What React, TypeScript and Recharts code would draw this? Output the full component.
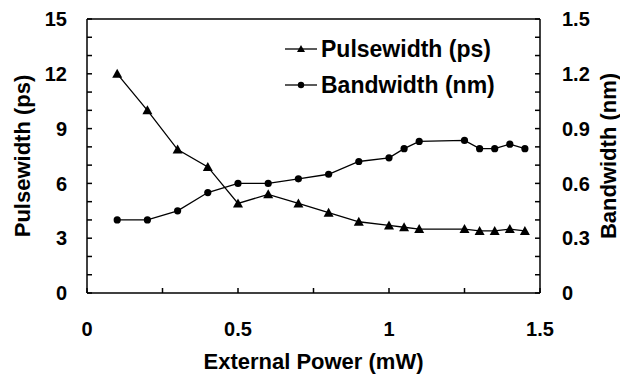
import React from 'react';
import { LineChart, Line, XAxis, YAxis, ReferenceLine } from 'recharts';

const power = [0.1, 0.2, 0.3, 0.4, 0.5, 0.6, 0.7, 0.8, 0.9, 1.0, 1.05, 1.1, 1.25, 1.3, 1.35, 1.4, 1.45];
const pulsewidth = [12.0, 10.0, 7.85, 6.9, 4.9, 5.4, 4.9, 4.4, 3.9, 3.7, 3.6, 3.5, 3.5, 3.4, 3.4, 3.5, 3.4];
const bandwidth = [0.4, 0.4, 0.45, 0.55, 0.6, 0.6, 0.625, 0.65, 0.72, 0.74, 0.79, 0.83, 0.835, 0.79, 0.79, 0.815, 0.79];

const xTicks = [0, 0.25, 0.5, 0.75, 1, 1.25, 1.5];
const leftTicks = [0, 1, 2, 3, 4, 5, 6, 7, 8, 9, 10, 11, 12, 13, 14, 15];
const rightTicks = [0, 0.1, 0.2, 0.3, 0.4, 0.5, 0.6, 0.7, 0.8, 0.9, 1.0, 1.1, 1.2, 1.3, 1.4, 1.5];

const data = power.map((p, i) => ({ p, pulse: pulsewidth[i], band: bandwidth[i] }));

const FONT = '"Liberation Sans", Arial, sans-serif';
const tickStyle = { fill: '#000', fontSize: 20, fontWeight: 'bold', fontFamily: FONT };

const Triangle = (props: any) => {
  const { cx, cy, index } = props;
  if (cx == null || cy == null) return null;
  return <path key={`t-${index}`} d={`M${cx},${cy - 5} L${cx + 5},${cy + 4} L${cx - 5},${cy + 4} Z`} fill="#000" />;
};

const Dot = (props: any) => {
  const { cx, cy, index } = props;
  if (cx == null || cy == null) return null;
  return <circle key={`c-${index}`} cx={cx} cy={cy} r={3.6} fill="#000" />;
};

const titleStyle = { fontSize: 22, fontWeight: 'bold', fontFamily: FONT, fill: '#000' } as const;

const LegendBox = () => (
  <div
    style={{
      position: 'absolute',
      left: 285,
      top: 31,
      fontFamily: FONT,
      fontWeight: 'bold',
      fontSize: 23,
      color: '#000',
      lineHeight: '36px',
    }}
  >
    <div style={{ display: 'flex', alignItems: 'center' }}>
      <svg width={34} height={20}>
        <line x1={0} y1={10} x2={32} y2={10} stroke="#000" strokeWidth={1.3} />
        <path d="M16,6 L20,13 L12,13 Z" fill="#000" />
      </svg>
      <span style={{ marginLeft: 2 }}>Pulsewidth (ps)</span>
    </div>
    <div style={{ display: 'flex', alignItems: 'center' }}>
      <svg width={34} height={20}>
        <line x1={0} y1={10} x2={32} y2={10} stroke="#000" strokeWidth={1.3} />
        <circle cx={16} cy={10} r={3.2} fill="#000" />
      </svg>
      <span style={{ marginLeft: 2 }}>Bandwidth (nm)</span>
    </div>
  </div>
);

export default function App() {
  return (
    <div style={{ position: 'absolute', left: 0, top: 0, width: 620, height: 380, background: '#fff' }}>
      <LineChart width={620} height={380} data={data} margin={{ top: 19, right: 0, bottom: 0, left: 0 }}>
        <XAxis
          dataKey="p"
          type="number"
          domain={[0, 1.5]}
          ticks={xTicks}
          height={87}
          stroke="#000"
          strokeWidth={1.5}
          tickSize={-5}
          tickMargin={34}
          tick={tickStyle}
          tickFormatter={(v: number) => (Math.round(v * 100) % 50 === 0 ? String(v) : '')}
          label={{
            content: (p: any) => {
              const vb = p.viewBox;
              return (
                <text x={vb.x + vb.width / 2} y={vb.y + 76} textAnchor="middle" style={titleStyle}>
                  External Power (mW)
                </text>
              );
            },
          }}
        />
        <YAxis
          yAxisId="left"
          domain={[0, 15]}
          ticks={leftTicks}
          width={87}
          stroke="#000"
          strokeWidth={1.5}
          tickSize={-5}
          tickMargin={25}
          tick={tickStyle}
          interval={0}
          tickFormatter={(v: number) => (v % 3 === 0 ? String(v) : '')}
          label={{
            content: (p: any) => {
              const vb = p.viewBox;
              const cx = 30;
              const cy = vb.y + vb.height / 2;
              return (
                <text x={cx} y={cy} textAnchor="middle" transform={`rotate(-90, ${cx}, ${cy})`} style={titleStyle}>
                  Pulsewidth (ps)
                </text>
              );
            },
          }}
        />
        <YAxis
          yAxisId="right"
          orientation="right"
          domain={[0, 1.5]}
          ticks={rightTicks}
          width={80}
          stroke="#000"
          strokeWidth={1.5}
          tickSize={-5}
          tickMargin={27}
          tick={tickStyle}
          interval={0}
          tickFormatter={(v: number) => {
            const k = Math.round(v * 10);
            if (k % 3 !== 0) return '';
            return k === 0 ? '0' : v.toFixed(1);
          }}
          label={{
            content: (p: any) => {
              const vb = p.viewBox;
              const cx = 616;
              const cy = vb.y + vb.height / 2;
              return (
                <text x={cx} y={cy} textAnchor="middle" transform={`rotate(-90, ${cx}, ${cy})`} style={titleStyle}>
                  Bandwidth (nm)
                </text>
              );
            },
          }}
        />
        <ReferenceLine yAxisId="left" y={15} stroke="#000" strokeWidth={1.5} />
        <Line
          yAxisId="left"
          dataKey="pulse"
          stroke="#000"
          strokeWidth={1.3}
          type="linear"
          dot={<Triangle />}
          isAnimationActive={false}
        />
        <Line
          yAxisId="right"
          dataKey="band"
          stroke="#000"
          strokeWidth={1.3}
          type="linear"
          dot={<Dot />}
          isAnimationActive={false}
        />
      </LineChart>
      <LegendBox />
    </div>
  );
}
